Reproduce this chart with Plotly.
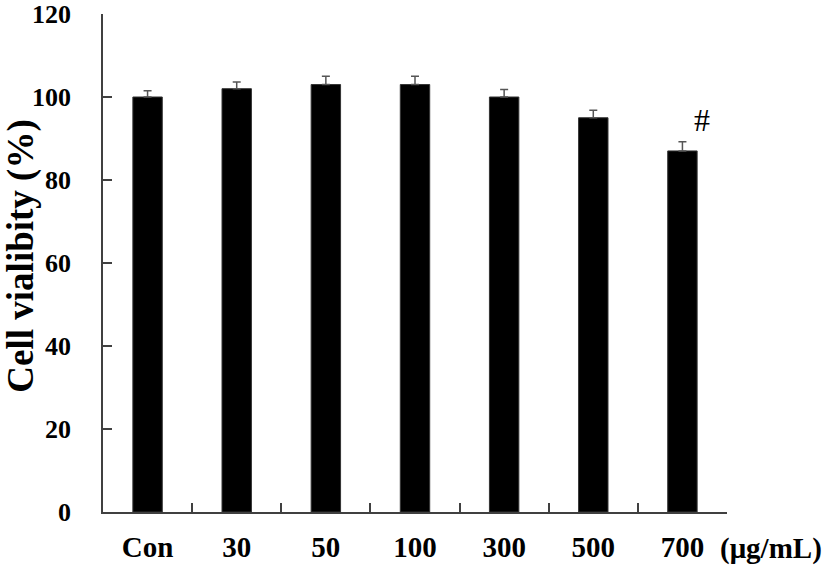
import plotly.graph_objects as go

categories = ["Con", "30", "50", "100", "300", "500", "700"]
viability = [100, 102, 103, 103, 100, 95, 87]
errors = [1.5, 1.6, 2.0, 2.0, 1.8, 1.8, 2.2]
y_ticks = [0, 20, 40, 60, 80, 100, 120]

font_family = "Liberation Serif"

fig = go.Figure()
fig.add_trace(go.Bar(
    x=categories, y=viability,
    marker=dict(color="black", line=dict(color="#333333", width=1)),
    width=0.33,
    error_y=dict(type="data", array=errors, symmetric=False, arrayminus=[0]*len(errors),
                 color="#555555", thickness=1.5, width=4),
))

fig.add_annotation(x=categories.index("700"), y=94.5, xref="x", yref="y", text="#", showarrow=False,
                   xshift=20, font=dict(family=font_family, size=32, color="black"))
fig.add_annotation(x=0.9856, y=-0.0723, xref="paper", yref="paper", text="<b>(μg/mL)</b>",
                   showarrow=False, xanchor="left", yanchor="middle",
                   font=dict(family=font_family, size=29, color="black"))
fig.add_annotation(x=-0.132, y=0.5, xref="paper", yref="paper", text="<b>Cell vialibity (%)</b>",
                   showarrow=False, textangle=-90, xanchor="center", yanchor="middle", yshift=7,
                   font=dict(family=font_family, size=37, color="black"))

fig.update_layout(
    width=827, height=567,
    margin=dict(l=103, r=100, t=14, b=55),
    paper_bgcolor="white", plot_bgcolor="white",
    showlegend=False,
)
fig.update_xaxes(
    type="category", range=[-0.5, 6.5], automargin=False,
    showline=True, linecolor="#404040", linewidth=1.5,
    ticks="inside", ticklen=9, tickcolor="#404040", tickwidth=1.5,
    tickson="boundaries", showgrid=False,
    tickfont=dict(family=font_family, size=29, color="black", weight="bold"),
    ticklabelstandoff=8,
)
fig.update_yaxes(
    range=[0, 120], tickvals=y_ticks, ticktext=[f"<b>{v}</b>" for v in y_ticks],
    automargin=False, ticklabeloverflow="allow",
    showline=True, linecolor="#404040", linewidth=1.5,
    ticks="inside", ticklen=9, tickcolor="#404040", tickwidth=1.5,
    showgrid=False, zeroline=False,
    tickfont=dict(family=font_family, size=26, color="black"),
    ticklabelstandoff=25,
)

fig.write_html("out.html", config={"displayModeBar": False},
               post_script="document.body.style.margin='0';")
